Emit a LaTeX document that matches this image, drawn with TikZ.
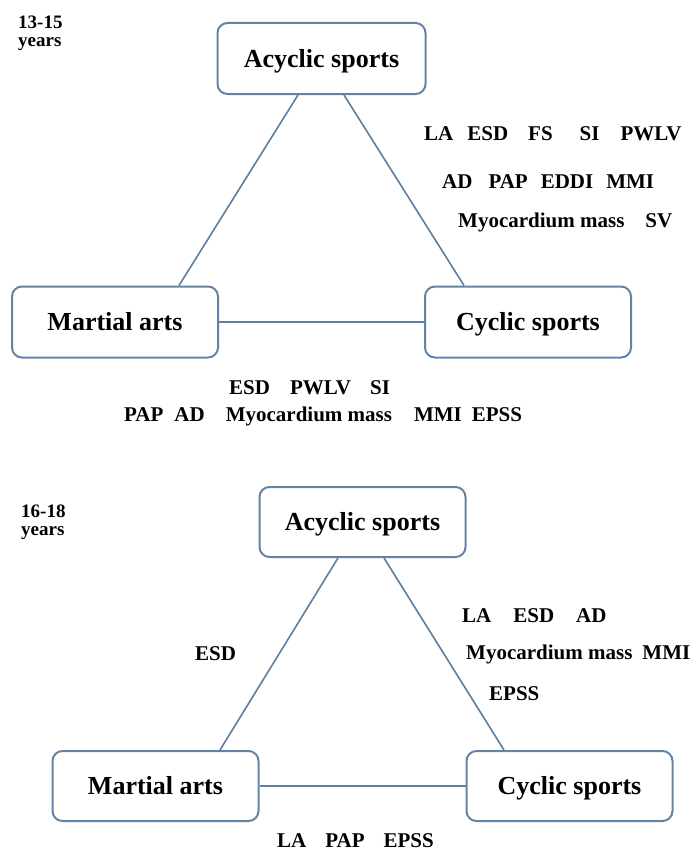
\documentclass[tikz,border=0pt]{standalone}
\usepackage{fontspec}
\setmainfont{Liberation Serif}
\definecolor{boxc}{RGB}{100,132,165}
\definecolor{linec}{RGB}{96,126,158}
\tikzset{
  sbox/.style={draw=boxc, line width=2pt, rounded corners=10pt, minimum width=206pt, minimum height=70pt, inner sep=0pt, font=\bfseries\fontsize{26}{30}\selectfont, text height=17.5pt, text depth=0pt},
  lbl/.style={anchor=base west, inner sep=0pt, font=\bfseries\fontsize{21}{25}\selectfont},
  yr/.style={anchor=north west, inner sep=0pt, align=left, font=\bfseries\fontsize{19}{17.5}\selectfont},
  conn/.style={draw=linec, line width=1.6pt}
}
\begin{document}
\begin{tikzpicture}[x=1pt,y=-1pt]
\useasboundingbox[fill=white] (0,0) rectangle (691,851);
% ---- 13-15 years ----
\node[yr] (yA) at (18,16) {13-15\\years};
\node[sbox, minimum width=208pt, minimum height=71pt] (acyA) at (321.5,58.5) {Acyclic sports};
\node[sbox, minimum height=71pt] (marA) at (115,322) {Martial arts};
\node[sbox, minimum height=71pt] (cycA) at (528,322) {Cyclic sports};
\draw[conn] ([xshift=-23.5pt]acyA.south) -- ([xshift=64pt]marA.north);
\draw[conn] ([xshift=22.5pt]acyA.south) -- ([xshift=-64pt]cycA.north);
\draw[conn] (marA.east) -- (cycA.west);
\node[lbl] (la1) at (424,140) {LA\hspace{14pt}ESD\hspace{20pt}FS\hspace{27pt}SI\hspace{21pt}PWLV};
\node[lbl] (la2) at (442,188) {AD\hspace{16pt}PAP\hspace{13pt}EDDI\hspace{13pt}MMI};
\node[lbl] (la3) at (458,227) {Myocardium mass\hspace{21pt}SV};
\node[lbl] (lb1) at (229,394) {ESD\hspace{20pt}PWLV\hspace{19pt}SI};
\node[lbl] (lb2) at (124,421) {PAP\hspace{11pt}AD\hspace{21pt}Myocardium mass\hspace{22pt}MMI\hspace{10pt}EPSS};
% ---- 16-18 years ----
\node[yr] (yB) at (21,505) {16-18\\years};
\node[sbox] (acyB) at (362.5,522) {Acyclic sports};
\node[sbox] (marB) at (155.5,786) {Martial arts};
\node[sbox] (cycB) at (569.5,786) {Cyclic sports};
\draw[conn] ([xshift=-24.5pt]acyB.south) -- ([xshift=64.5pt]marB.north);
\draw[conn] ([xshift=21.5pt]acyB.south) -- ([xshift=-65.5pt]cycB.north);
\draw[conn] (marB.east) -- (cycB.west);
\node[lbl] (lc0) at (195,660) {ESD};
\node[lbl] (lc1) at (462,622) {LA\hspace{22pt}ESD\hspace{22pt}AD};
\node[lbl] (lc2) at (466,659) {Myocardium mass\hspace{10pt}MMI};
\node[lbl] (lc3) at (489,700) {EPSS};
\node[lbl] (ld1) at (277,847) {LA\hspace{19pt}PAP\hspace{19pt}EPSS};
\end{tikzpicture}
\end{document}
